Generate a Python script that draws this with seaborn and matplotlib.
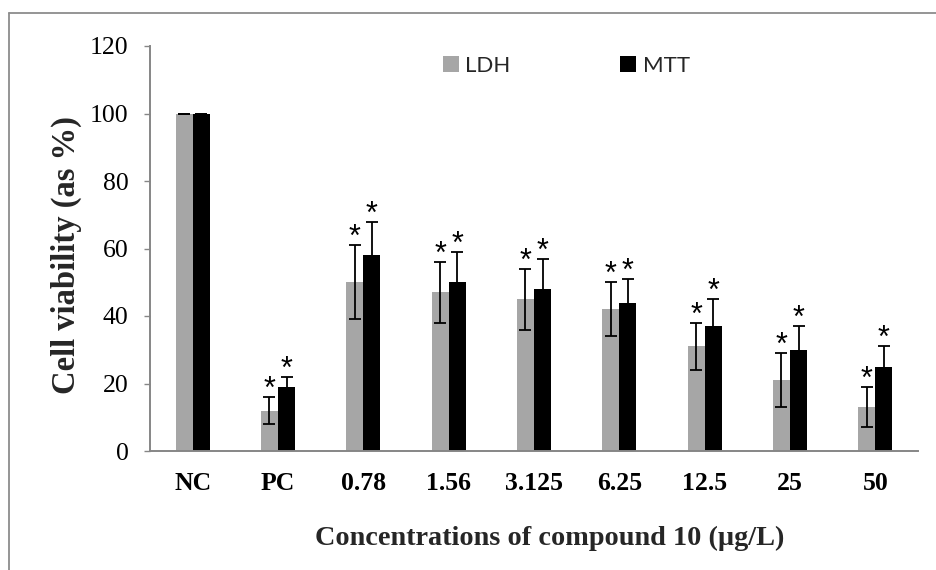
import matplotlib
matplotlib.use("Agg")
import matplotlib.pyplot as plt
from matplotlib.lines import Line2D
import seaborn as sns
import pandas as pd
import numpy as np

categories = ["NC", "PC", "0.78", "1.56", "3.125", "6.25", "12.5", "25", "50"]
ldh_values = [100, 12, 50, 47, 45, 42, 31, 21, 13]
ldh_errors = [0, 4, 11, 9, 9, 8, 7, 8, 6]
mtt_values = [100, 19, 58, 50, 48, 44, 37, 30, 25]
mtt_errors = [0, 3, 10, 9, 9, 7, 8, 7, 6]
ldh_stars = [False, True, True, True, True, True, True, True, True]
mtt_stars = [False, True, True, True, True, True, True, True, True]
series = ["LDH", "MTT"]
yticks = [0, 20, 40, 60, 80, 100, 120]

df = pd.DataFrame({
    "Concentration": categories * 2,
    "Assay": ["LDH"] * len(categories) + ["MTT"] * len(categories),
    "Viability": ldh_values + mtt_values,
})

sns.set_theme(style="white")
plt.rcParams["font.family"] = ["Liberation Serif", "DejaVu Serif"]

fig = plt.figure(figsize=(9.36, 5.70), dpi=100)
ax = fig.add_axes([150 / 936, 1 - 451 / 570, 768 / 936, 405 / 570])

sns.barplot(data=df, x="Concentration", y="Viability", hue="Assay",
            order=categories, hue_order=series,
            palette={"LDH": "#a6a6a6", "MTT": "#000000"},
            errorbar=None, width=0.4, gap=0, ax=ax, saturation=1,
            linewidth=0)

errs = [ldh_errors, mtt_errors]
vals = [ldh_values, mtt_values]
stars = [ldh_stars, mtt_stars]
for cont, v, e, s in zip(ax.containers, vals, errs, stars):
    xs = [b.get_x() + b.get_width() / 2 for b in cont]
    ax.errorbar(xs, v, yerr=e, fmt="none", ecolor="black", elinewidth=1.3,
                capsize=4.3, capthick=1.3, zorder=5)
    for x, vv, ee, ss in zip(xs, v, e, s):
        if ss:
            ax.text(x, vv + ee + 2.1, "*", ha="center", va="center",
                    fontsize=22, family=["Liberation Sans", "DejaVu Sans"],
                    color="black", zorder=6)

ax.set_ylim(0, 120)
ax.set_xlim(-0.5, len(categories) - 0.5)
ax.set_yticks(yticks)
ax.set_yticklabels([str(t) for t in yticks], fontsize=18.5)
ax.set_xticks(range(len(categories)))
ax.set_xticklabels(categories, fontsize=18.5, fontweight="bold")
ax.tick_params(axis="y", which="both", left=True, length=4.5, width=1.0,
               color="#868686", pad=11, labelcolor="black")
ax.tick_params(axis="x", which="both", bottom=False, length=0, pad=15,
               labelcolor="black")

for side in ["top", "right"]:
    ax.spines[side].set_visible(False)
for side in ["left", "bottom"]:
    ax.spines[side].set_color("#868686")
    ax.spines[side].set_linewidth(1.4)

ax.set_ylabel("Cell viability (as %)", fontsize=23.5, fontweight="bold")
ax.set_xlabel("Concentrations of compound 10 (\u00b5g/L)", fontsize=20.3,
              fontweight="bold")
ax.yaxis.set_label_coords(-(150 - 66) / 768, (451 - 255) / 405)
ax.xaxis.set_label_coords((550 - 150) / 768, -(538 - 451) / 405)
ax.xaxis.label.set_va("center")
ax.yaxis.label.set_va("center")

handles, labels = ax.get_legend_handles_labels()
leg = ax.legend(handles, labels, ncol=2, frameon=False, loc="upper left",
                bbox_to_anchor=(293 / 768, 1.0 - 10 / 405),
                prop={"family": "Lato", "size": 16},
                handlelength=0.7, handleheight=0.75, handletextpad=0.3,
                columnspacing=4.95, borderaxespad=0.0, borderpad=0.0)

fig.add_artist(Line2D([8.5 / 936, 8.5 / 936], [0, 1 - 12.5 / 570],
                      transform=fig.transFigure, color="#8c8c8c", lw=1.3))
fig.add_artist(Line2D([8.5 / 936, 1], [1 - 12.5 / 570, 1 - 12.5 / 570],
                      transform=fig.transFigure, color="#8c8c8c", lw=1.3))

fig.savefig("out.png", dpi=100, facecolor="white")
